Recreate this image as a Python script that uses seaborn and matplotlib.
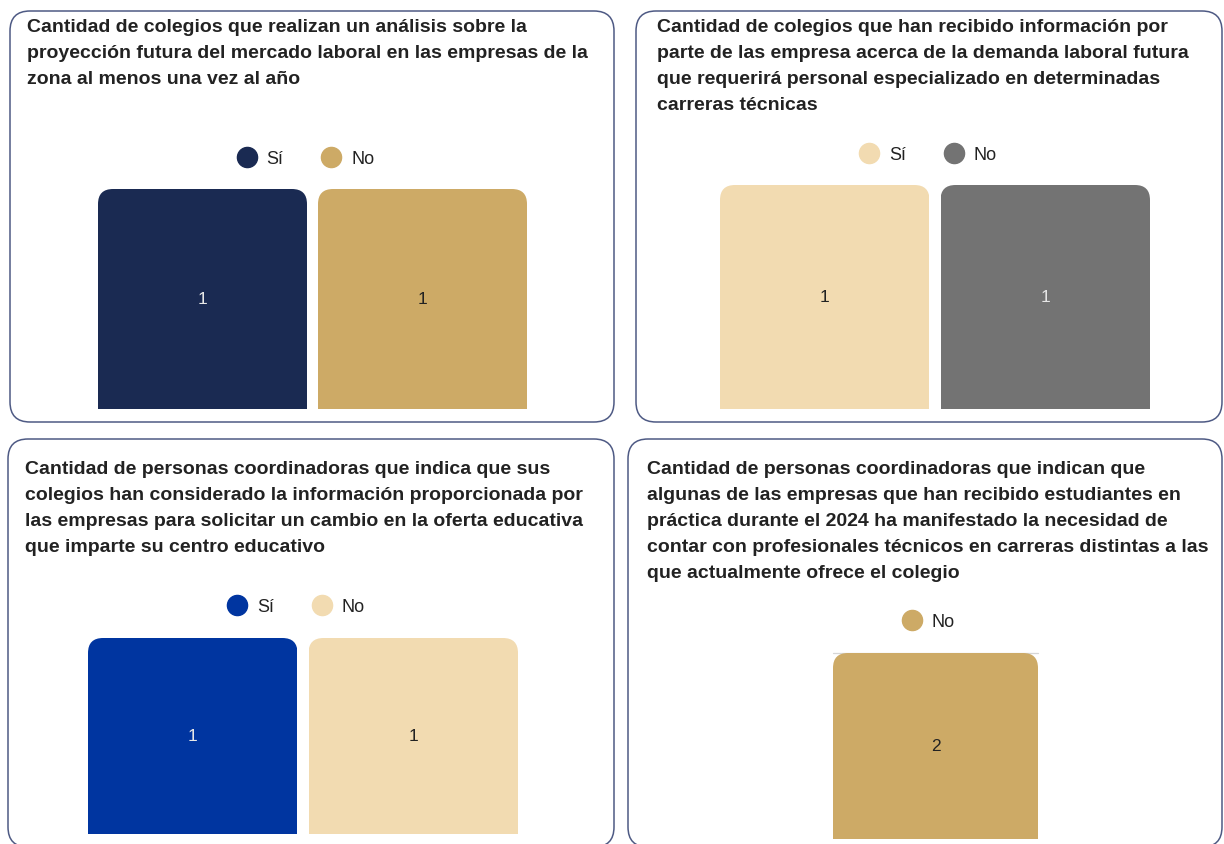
import numpy as np
import pandas as pd
import matplotlib
matplotlib.use("Agg")
import matplotlib.pyplot as plt
import seaborn as sns
from matplotlib.patches import FancyBboxPatch
from matplotlib.transforms import IdentityTransform
from matplotlib.lines import Line2D

# ---------------- data ----------------
title1 = ["Cantidad de colegios que realizan un análisis sobre la",
          "proyección futura del mercado laboral en las empresas de la",
          "zona al menos una vez al año"]
cats1 = ["Sí", "No"]
vals1 = [1, 1]

title2 = ["Cantidad de colegios que han recibido información por",
          "parte de las empresa acerca de la demanda laboral futura",
          "que requerirá personal especializado en determinadas",
          "carreras técnicas"]
cats2 = ["Sí", "No"]
vals2 = [1, 1]

title3 = ["Cantidad de personas coordinadoras que indica que sus",
          "colegios han considerado la información proporcionada por",
          "las empresas para solicitar un cambio en la oferta educativa",
          "que imparte su centro educativo"]
cats3 = ["Sí", "No"]
vals3 = [1, 1]

title4 = ["Cantidad de personas coordinadoras que indican que",
          "algunas de las empresas que han recibido estudiantes en",
          "práctica durante el 2024 ha manifestado la necesidad de",
          "contar con profesionales técnicos en carreras distintas a las",
          "que actualmente ofrece el colegio"]
cats4 = ["No"]
vals4 = [2]

NAVY, GOLD, BEIGE, GREY, BLUE = "#1a2a52", "#cdaa66", "#f2dbb1", "#737373", "#0035a0"

# ---------------- figure ----------------
W, H = 1224, 845
sns.set_theme(style="white")
plt.rcParams["font.family"] = ["Liberation Sans", "DejaVu Sans"]
fig = plt.figure(figsize=(W / 100, H / 100), dpi=100)
fig.patch.set_facecolor("white")


def card(x0, y0, x1, y1):
    p = FancyBboxPatch((x0, H - y1), x1 - x0, y1 - y0,
                       boxstyle="round,pad=0,rounding_size=20",
                       transform=IdentityTransform(), fc="white",
                       ec="#4e5a84", lw=1.1, zorder=-5)
    fig.add_artist(p)


def panel(box, cats, vals, colors, lab_colors, legend_y, title, tx, ty, grid=False):
    x0, y0, x1, y1 = box
    ax = fig.add_axes([x0 / W, 1 - y1 / H, (x1 - x0) / W, (y1 - y0) / H])
    ax.patch.set_alpha(0)
    df = pd.DataFrame({"cat": cats, "val": vals})
    n = len(cats)
    sns.barplot(data=df, x="cat", y="val", hue="cat", order=cats, hue_order=cats,
                palette=dict(zip(cats, colors)), width=0.95, saturation=1,
                legend=False, ax=ax)
    ax.set_xlim(-0.475, n - 1 + 0.475)
    ax.set_ylim(0, max(vals))
    ax.set_axis_off()
    if grid:
        ax.axhline(max(vals), color="#d6d6d6", lw=0.9, zorder=0, clip_on=False)
    # rounded top corners
    for p in ax.patches:
        bx0, by0 = ax.transData.transform((p.get_x(), p.get_y()))
        bx1, by1 = ax.transData.transform((p.get_x() + p.get_width(), p.get_y() + p.get_height()))
        clip = FancyBboxPatch((bx0, by0 - 40), bx1 - bx0, by1 - by0 + 40,
                              boxstyle="round,pad=0,rounding_size=15",
                              transform=IdentityTransform())
        p.set_clip_path(clip)
        p.set_edgecolor("none")
    for cont, lc in zip(ax.containers, lab_colors):
        ax.bar_label(cont, fmt="%d", label_type="center", color=lc, fontsize=12.5)
    handles = [Line2D([0], [0], marker="o", ls="", markersize=14.5,
                      markerfacecolor=c, markeredgecolor=c) for c in colors]
    cx = (x0 + x1) / 2 - 7
    ax.legend(handles, cats, loc="center", bbox_to_anchor=(cx / W, 1 - (legend_y + 3) / H),
              bbox_transform=fig.transFigure, ncol=n, frameon=False, fontsize=13,
              handlelength=1.1, handletextpad=0.55, columnspacing=2.1,
              labelcolor="#222222")
    for i, line in enumerate(title):
        fig.text(tx / W, 1 - (ty + 3 + 26 * i) / H, line, ha="left", va="center",
                 fontsize=14, fontweight="bold", color="#222222")
    return ax


card(10, 12, 614, 423)
card(636, 12, 1222, 423)
card(8, 440, 614, 848)
card(628, 440, 1222, 848)

panel((98, 190, 527, 410), cats1, vals1, [NAVY, GOLD], ["#e8e8e8", "#222222"],
      157, title1, 27, 24)
panel((720, 186, 1150, 410), cats2, vals2, [BEIGE, GREY], ["#222222", "#e6e6e6"],
      153, title2, 657, 24)
panel((88, 639, 518, 835), cats3, vals3, [BLUE, BEIGE], ["#e8e8e8", "#222222"],
      605, title3, 25, 467)
panel((833, 654, 1038, 840), cats4, vals4, [GOLD], ["#222222"],
      620, title4, 647, 467, grid=True)

fig.savefig("out.png", dpi=100)
